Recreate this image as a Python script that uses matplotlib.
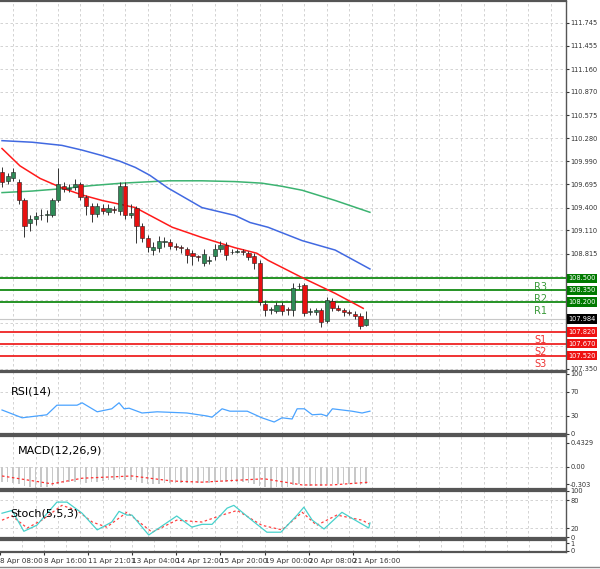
import matplotlib
matplotlib.use("Agg")
import matplotlib.pyplot as plt
import numpy as np

# ---------------- data ----------------
opens = [109.85,109.74,109.78,109.72,109.49,109.21,109.25,109.30,109.30,109.30,109.49,109.68,109.64,109.66,109.70,109.53,
         109.42,109.32,109.40,109.34,109.38,109.36,109.68,109.30,109.39,109.17,109.01,108.86,108.89,108.96,108.96,108.91,
         108.90,108.88,108.82,108.78,108.70,108.72,108.78,108.88,108.93,108.83,108.84,108.85,108.82,108.78,108.70,108.18,
         108.10,108.09,108.16,108.11,108.10,108.40,108.42,108.07,108.07,108.10,107.96,108.21,108.12,108.10,108.07,108.05,
         108.02,107.91]
closes = [109.72,109.80,109.85,109.49,109.17,109.25,109.29,109.31,109.32,109.49,109.70,109.64,109.65,109.70,109.53,109.42,
          109.32,109.42,109.36,109.40,109.37,109.68,109.30,109.33,109.17,109.01,108.90,108.90,108.98,108.97,108.91,108.90,
          108.89,108.80,108.78,108.77,108.81,108.73,108.87,108.93,108.80,108.84,108.85,108.84,108.77,108.70,108.20,108.10,
          108.11,108.16,108.09,108.10,108.38,108.41,108.06,108.08,108.10,107.95,108.22,108.13,108.10,108.07,108.06,108.02,
          107.90,107.984]
highs = [109.92,109.84,109.90,109.76,109.52,109.30,109.34,109.38,109.37,109.52,109.90,109.72,109.70,109.76,109.72,109.56,
         109.46,109.46,109.44,109.44,109.42,109.72,109.72,109.45,109.42,109.20,109.05,108.96,109.04,109.03,109.00,108.95,
         108.93,108.90,108.86,108.80,108.88,108.78,108.94,108.97,108.96,108.88,108.88,108.87,108.85,108.82,108.74,108.22,
         108.14,108.20,108.20,108.14,108.44,108.44,108.44,108.12,108.13,108.12,108.26,108.25,108.16,108.12,108.10,108.08,
         108.06,108.08]
lows = [109.66,109.70,109.74,109.45,109.02,109.10,109.18,109.24,109.22,109.28,109.47,109.60,109.60,109.62,109.50,109.30,
        109.22,109.28,109.32,109.30,109.33,109.30,109.25,109.27,108.95,108.96,108.84,108.80,108.84,108.90,108.88,108.86,
        108.82,108.70,108.67,108.72,108.66,108.68,108.74,108.84,108.73,108.81,108.82,108.80,108.74,108.62,108.16,108.02,
        108.05,108.06,108.04,108.03,108.02,108.36,108.02,108.03,108.04,107.88,107.94,108.08,108.08,108.02,108.03,107.99,
        107.86,107.90]

ma_fast_idx = [0,3.2,6.8,10.7,14.3,17.9,23.8,30.4,35.7,41.6,45.5,47.5,53.6,59.5,64.5]
ma_fast = [110.15,109.93,109.77,109.65,109.56,109.49,109.40,109.15,109.02,108.89,108.82,108.73,108.51,108.31,108.12]
ma_mid_idx = [0,5.4,10.7,14.3,17.9,21.0,23.8,26.4,29.6,35.7,41.6,44.3,47.5,53.6,59.5,65.7]
ma_mid = [110.25,110.23,110.19,110.13,110.06,109.99,109.91,109.81,109.65,109.40,109.30,109.21,109.15,108.98,108.86,108.62]
ma_slow_idx = [0,5.4,10.7,16.1,21.4,29.6,35.7,41.6,46.4,50.0,53.6,59.5,65.7]
ma_slow = [109.59,109.61,109.64,109.68,109.71,109.74,109.74,109.73,109.71,109.67,109.62,109.49,109.34]

rsi_idx = [0,3.6,8,9.8,13.4,14.3,17,19.6,20.9,21.8,22.7,25,27.7,33,36.6,37.5,39.3,40.7,43.8,46.4,48.6,50,51.8,52.7,54,55.4,57,58,59,62.5,64.3,65.7]
rsi = [40,27,32,48,48,52,37,42,52,42,43,35,37,35,30,28,42,38,38,27,20,27,25,42,42,32,33,30,42,38,35,38]

macd_hist = [-0.26,-0.27,-0.28,-0.30,-0.33,-0.36,-0.37,-0.36,-0.35,-0.33,-0.30,-0.28,-0.27,-0.26,-0.27,-0.28,
             -0.27,-0.26,-0.25,-0.24,-0.24,-0.22,-0.24,-0.24,-0.27,-0.29,-0.31,-0.31,-0.30,-0.29,-0.28,-0.28,
             -0.28,-0.29,-0.29,-0.29,-0.28,-0.28,-0.27,-0.26,-0.27,-0.27,-0.27,-0.27,-0.28,-0.30,-0.34,-0.36,
             -0.37,-0.36,-0.35,-0.35,-0.32,-0.31,-0.33,-0.33,-0.33,-0.34,-0.31,-0.31,-0.31,-0.31,-0.31,-0.31,
             -0.32,-0.31]
macd_sig_idx = [0,8.9,14.3,23.2,30.4,35.7,46.8,53.6,58.9,65.7]
macd_sig = [-0.16,-0.30,-0.20,-0.16,-0.25,-0.27,-0.21,-0.32,-0.32,-0.27]

stoch_idx = [0,1.8,3.9,6.2,9.8,11.6,14.3,17,19.6,20.9,22.3,23.2,26.2,31.2,33.9,35.7,37.5,40.2,41.4,44.6,47.3,49.8,52.7,53.9,55.4,57.5,60.7,62.5,65.5,65.7]
stoch_k = [52,58,13,26,76,76,52,16,33,56,48,48,5,46,22,28,28,63,69,37,11,11,48,65,37,18,54,41,20,31]
stoch_d_idx = [0,1.8,4.5,7.1,10.7,13.4,16.1,18.7,22.3,26.8,31.2,35.7,39.3,42,46.4,50,53.6,56.2,59.8,64.3,65.7]
stoch_d = [37,46,20,37,69,58,33,22,54,11,37,33,48,58,26,16,54,26,48,37,28]

levels_r = [108.500, 108.350, 108.200]
names_r = ["R3", "R2", "R1"]
levels_s = [107.820, 107.670, 107.520]
names_s = ["S1", "S2", "S3"]
last_price = 107.984

price_ticks = [111.745,111.455,111.160,110.870,110.575,110.280,109.990,109.695,109.400,109.110,108.815,108.525,108.230,107.935,107.645,107.350]
hidden_ticks = [108.525, 108.230, 107.935, 107.645]
time_labels = ["8 Apr 08:00","8 Apr 16:00","11 Apr 21:01","13 Apr 04:00","14 Apr 12:00","15 Apr 20:00","19 Apr 00:00","20 Apr 08:00","21 Apr 16:00"]
time_idx = [-2,6,14,22,30,38,46,54,62]

# ---------------- layout ----------------
W, H = 600, 569
fig = plt.figure(figsize=(W/100, H/100), dpi=100)
fig.patch.set_facecolor("white")
XR = 566
xlim = (-0.36, (XR-2)/5.6)
gc = "#cccccc"
LS = 4.8

def ax_px(top, bot):
    a = fig.add_axes([0, 1-bot/H, XR/W, (bot-top)/H])
    a.set_xlim(*xlim)
    a.set_facecolor("white")
    for s in a.spines.values():
        s.set_color("#555555"); s.set_linewidth(1.6)
    a.spines["left"].set_visible(False)
    a.spines["right"].set_linewidth(1.0)
    a.yaxis.tick_right()
    a.tick_params(axis="y", labelsize=LS, length=2, pad=1, colors="#333333")
    a.tick_params(axis="x", length=0, labelbottom=False)
    for g in np.arange(2, 102, 4):
        a.axvline(g, color=gc, lw=0.6, ls=(0, (3, 3)), zorder=0)
    return a

# main
ax = ax_px(1, 371)
ax.set_ylim(107.324, 112.024)
ax.set_yticks(price_ticks)
ax.set_yticklabels(["" if t in hidden_ticks else f"{t:.3f}" for t in price_ticks])
for t in price_ticks:
    ax.axhline(t, color=gc, lw=0.6, ls=(0, (3, 3)), zorder=0)
ax.axhline(last_price, color="#c8c8c8", lw=0.8, zorder=1)
for lv in levels_r:
    ax.axhline(lv, color="#008000", lw=1.2, zorder=2)
for lv in levels_s:
    ax.axhline(lv, color="#ee1111", lw=1.2, zorder=2)
for lv, nm in zip(levels_r + levels_s, names_r + names_s):
    c = "#3a9a3a" if nm.startswith("R") else "#ee3333"
    ax.text(96.2, lv-0.045, nm, color=c, fontsize=7, va="top", ha="center")

ax.plot(ma_slow_idx, ma_slow, color="#3cb371", lw=1.1, zorder=3)
ax.plot(ma_mid_idx, ma_mid, color="#4169e1", lw=1.1, zorder=3)
ax.plot(ma_fast_idx, ma_fast, color="#ff1a1a", lw=1.1, zorder=3)

for i, (o, c, h, l) in enumerate(zip(opens, closes, highs, lows)):
    ax.vlines(i, l, h, color="#333333", lw=0.7, zorder=4)
    col = "#2e8b57" if c >= o else "#e81010"
    b0, b1 = min(o, c), max(o, c)
    if b1 - b0 < 0.01:
        b1 = b0 + 0.01
    ax.bar(i, b1-b0, bottom=b0, width=0.75, color=col, edgecolor="#222222", lw=0.4, zorder=5)

def tag(a, y, txt, bg):
    a.text(1.004, y, txt, transform=a.get_yaxis_transform(), fontsize=LS, color="white",
           va="center", ha="left", bbox=dict(boxstyle="square,pad=0.25", fc=bg, ec="none"), zorder=10, clip_on=False)
for lv in levels_r:
    tag(ax, lv, f"{lv:.3f}", "#007a00")
for lv in levels_s:
    tag(ax, lv, f"{lv:.3f}", "#ee1111")
tag(ax, last_price, f"{last_price:.3f}", "#000000")

# RSI
ar = ax_px(372, 434)
ar.set_ylim(0, 103.3)
ar.set_yticks([0, 30, 70, 100])
for t in [30, 70]:
    ar.axhline(t, color=gc, lw=0.6, ls=(0, (3, 3)), zorder=0)
ar.plot(rsi_idx, rsi, color="#4aa3ff", lw=0.9)
ar.text(1.6, 70, "RSI(14)", fontsize=8, va="center")

# MACD
am = ax_px(436, 489)
am.set_ylim(-0.392, 0.552)
am.set_yticks([0.4329, 0.0, -0.303])
am.set_yticklabels(["0.4329", "0.00", "-0.303"])
am.axhline(0, color=gc, lw=0.6, ls=(0, (3, 3)), zorder=0)
am.bar(range(len(macd_hist)), macd_hist, width=0.3, color="#c8c8c8", zorder=2)
am.plot(macd_sig_idx, macd_sig, color="#ff3030", lw=0.9, ls=(0, (2, 2)), zorder=3)
am.text(2.8, 0.30, "MACD(12,26,9)", fontsize=8, va="center")

# Stoch
ast = ax_px(491, 538)
ast.set_ylim(-1.5, 99.5)
ast.set_yticks([0, 20, 80, 100])
for t in [20, 80]:
    ast.axhline(t, color=gc, lw=0.6, ls=(0, (3, 3)), zorder=0)
ast.plot(stoch_idx, stoch_k, color="#48d1cc", lw=0.9, zorder=3)
ast.plot(stoch_d_idx, stoch_d, color="#ff4040", lw=0.9, ls=(0, (2, 2)), zorder=2)
ast.text(1.4, 52, "Stoch(5,5,3)", fontsize=8, va="center")

# small empty panel
ae = ax_px(540, 552)
ae.set_ylim(-0.2, 1.4)
ae.set_yticks([0, 1])
ae.set_xticks(time_idx)
ae.set_xticklabels(time_labels, fontsize=5.2, ha="left")
ae.tick_params(axis="x", labelbottom=True, length=2, pad=2, colors="#333333")

fig.add_artist(plt.Line2D([0, 1], [2/H, 2/H], color="#888888", lw=1))
fig.savefig("out.png", dpi=100, facecolor="white")
